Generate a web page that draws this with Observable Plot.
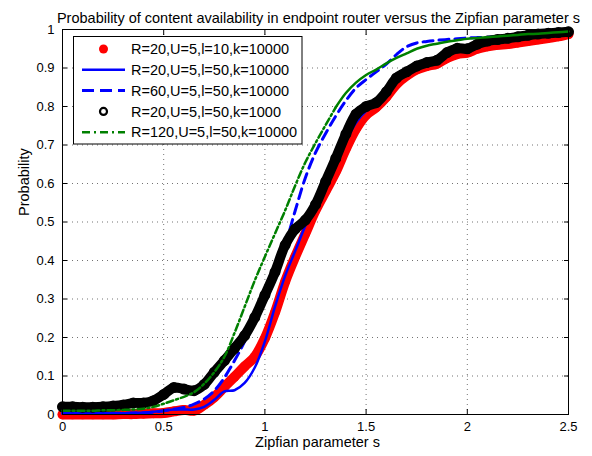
<!DOCTYPE html>
<html><head><meta charset="utf-8">
<script src="https://cdn.jsdelivr.net/npm/d3@7"></script>
<script src="https://cdn.jsdelivr.net/npm/@observablehq/plot@0.6"></script>
<style>body{margin:0;background:#fff} svg{display:block}</style>
</head><body><div id="chart"></div>
<script>
const titleText = "Probability of content availability in endpoint router versus the Zipfian parameter s";
const xLabel = "Zipfian parameter s";
const yLabel = "Probability";
const xTicks = [0, 0.5, 1, 1.5, 2, 2.5];
const yTicks = [0, 0.1, 0.2, 0.3, 0.4, 0.5, 0.6, 0.7, 0.8, 0.9, 1];
const legendLabels = ["R=20,U=5,l=10,k=10000", "R=20,U=5,l=50,k=10000", "R=60,U=5,l=50,k=10000", "R=20,U=5,l=50,k=1000", "R=120,U=5,l=50,k=10000"];

const sValues = [0,0.05,0.1,0.15,0.2,0.25,0.3,0.35,0.4,0.45,0.5,0.55,0.6,0.65,0.7,0.75,0.8,0.85,0.9,0.95,1,1.05,1.1,1.15,1.2,1.25,1.3,1.35,1.4,1.45,1.5,1.55,1.6,1.65,1.7,1.75,1.8,1.85,1.9,1.95,2,2.05,2.1,2.15,2.2,2.25,2.3,2.35,2.4,2.45,2.5];

const pRed = [0,0,0,0,0,0,0.001,0.001,0.002,0.003,0.004,0.008,0.012,0.010,0.025,0.045,0.072,0.098,0.125,0.150,0.198,0.265,0.345,0.410,0.470,0.530,0.580,0.630,0.690,0.742,0.778,0.798,0.825,0.858,0.880,0.896,0.905,0.911,0.926,0.936,0.940,0.950,0.956,0.960,0.962,0.966,0.970,0.974,0.978,0.982,0.988];
const pBlue = [0.003,0.003,0.003,0.003,0.003,0.003,0.003,0.004,0.005,0.007,0.010,0.013,0.013,0.013,0.020,0.038,0.060,0.063,0.082,0.122,0.190,0.280,0.360,0.425,0.490,0.545,0.595,0.650,0.710,0.758,0.788,0.805,0.832,0.866,0.888,0.903,0.912,0.918,0.934,0.946,0.950,0.960,0.965,0.970,0.973,0.977,0.981,0.984,0.987,0.989,0.991];
const pDashed = [0.003,0.003,0.003,0.003,0.003,0.003,0.003,0.004,0.004,0.006,0.010,0.014,0.018,0.027,0.040,0.062,0.096,0.140,0.190,0.250,0.310,0.370,0.440,0.530,0.615,0.680,0.730,0.775,0.815,0.848,0.870,0.890,0.910,0.935,0.955,0.965,0.969,0.972,0.974,0.976,0.978,0.979,0.980,0.982,0.984,0.986,0.988,0.989,0.990,0.992,0.993];
const pBlack = [0.020,0.020,0.019,0.019,0.020,0.022,0.025,0.030,0.030,0.036,0.052,0.070,0.066,0.062,0.078,0.110,0.140,0.172,0.205,0.252,0.310,0.370,0.440,0.482,0.505,0.545,0.605,0.665,0.728,0.780,0.800,0.810,0.838,0.874,0.890,0.905,0.914,0.920,0.940,0.951,0.950,0.962,0.970,0.974,0.977,0.981,0.985,0.988,0.990,0.992,0.994];
const pGreen = [0.010,0.010,0.010,0.010,0.011,0.011,0.012,0.013,0.015,0.020,0.028,0.037,0.046,0.058,0.080,0.110,0.150,0.212,0.280,0.348,0.410,0.470,0.530,0.595,0.655,0.705,0.752,0.798,0.835,0.862,0.882,0.896,0.912,0.926,0.938,0.950,0.958,0.963,0.968,0.972,0.976,0.978,0.980,0.982,0.984,0.986,0.988,0.989,0.991,0.993,0.995];

const rows = (p) => sValues.map((s, i) => ({s, p: p[i]}));
const red = rows(pRed), blue = rows(pBlue), dashed = rows(pDashed), black = rows(pBlack), green = rows(pGreen);
const greenA = green.filter(d => d.s <= 1.35), greenB = green.filter(d => d.s >= 1.35);

const font = "'Liberation Sans', Arial, Helvetica, sans-serif";
const empty = () => "";

const svg = Plot.plot({
  width: 592, height: 456,
  marginLeft: 62, marginRight: 24, marginTop: 29, marginBottom: 42,
  style: {fontFamily: font, fontSize: "13px", color: "#000", background: "#fff", overflow: "visible"},
  x: {domain: [0, 2.5]},
  y: {domain: [0, 1]},
  marks: [
    Plot.gridX(xTicks, {stroke: "#000", strokeOpacity: 0.55, strokeDasharray: "1,4"}),
    Plot.gridY(yTicks, {stroke: "#000", strokeOpacity: 0.55, strokeDasharray: "1,4"}),
    Plot.line(red, {x: "s", y: "p", stroke: "#ff0000", strokeWidth: 10, curve: "catmull-rom"}),
    Plot.dot(red, {x: "s", y: "p", r: 4.8, fill: "#ff0000"}),
    Plot.line(blue, {x: "s", y: "p", stroke: "#0000ff", strokeWidth: 2.5, curve: "catmull-rom"}),
    Plot.line(dashed, {x: "s", y: "p", stroke: "#0000ff", strokeWidth: 3, strokeDasharray: "10,6", curve: "catmull-rom"}),
    Plot.line(black, {x: "s", y: "p", stroke: "#000", strokeWidth: 10, curve: "catmull-rom"}),
    Plot.dot(black, {x: "s", y: "p", r: 4.3, stroke: "#000", strokeWidth: 2.4, fill: "none"}),
    Plot.line(greenA, {x: "s", y: "p", stroke: "#008000", strokeWidth: 2.5, strokeDasharray: "7,3,2,3", curve: "catmull-rom"}),
    Plot.line(greenB, {x: "s", y: "p", stroke: "#008000", strokeWidth: 2.5, curve: "catmull-rom"}),
    Plot.frame({stroke: "#000", strokeWidth: 1}),
    Plot.axisX(xTicks, {anchor: "bottom", tickSize: 0, tickPadding: 7, tickFormat: d => String(d), label: null, fontSize: 13}),
    Plot.axisY(yTicks, {anchor: "left", tickSize: 0, tickPadding: 8, tickFormat: d => String(d), label: null, fontSize: 13}),
    Plot.axisX(xTicks, {anchor: "bottom", tickSize: 5, dy: -5, tickFormat: empty, label: null}),
    Plot.axisX(xTicks, {anchor: "top", tickSize: 5, dy: 5, tickFormat: empty, label: null}),
    Plot.axisY(yTicks, {anchor: "left", tickSize: 5, dx: 5, tickFormat: empty, label: null}),
    Plot.axisY(yTicks, {anchor: "right", tickSize: 5, dx: -5, tickFormat: empty, label: null}),
    Plot.text([titleText], {frameAnchor: "top", dx: 3, dy: -17, fontSize: 14.5}),
    Plot.text([xLabel], {frameAnchor: "bottom", dx: 2, dy: 32, fontSize: 14.5}),
    Plot.text([yLabel], {frameAnchor: "left", rotate: -90, dx: -38, dy: -6, fontSize: 14.5})
  ]
});
document.getElementById("chart").appendChild(svg);

// Legend (MATLAB-style box, upper left)
const lg = d3.select(svg).append("g").attr("font-family", font).attr("font-size", "14.5px").attr("text-anchor", "start");
lg.append("rect").attr("x", 73.5).attr("y", 36.5).attr("width", 228.5).attr("height", 107.5)
  .attr("fill", "#fff").attr("stroke", "#000").attr("stroke-width", 1);
const rowY = i => 49 + i * 20.8;
const x0 = 82, x1 = 125, xm = 103.5;
lg.append("circle").attr("cx", xm).attr("cy", rowY(0)).attr("r", 4.5).attr("fill", "#ff0000");
lg.append("line").attr("x1", x0).attr("x2", x1).attr("y1", rowY(1)).attr("y2", rowY(1)).attr("stroke", "#0000ff").attr("stroke-width", 2.5);
lg.append("line").attr("x1", x0).attr("x2", x1).attr("y1", rowY(2)).attr("y2", rowY(2)).attr("stroke", "#0000ff").attr("stroke-width", 3).attr("stroke-dasharray", "12,6");
lg.append("circle").attr("cx", xm).attr("cy", rowY(3)).attr("r", 3.5).attr("fill", "none").attr("stroke", "#000").attr("stroke-width", 2.2);
lg.append("line").attr("x1", x0).attr("x2", x1).attr("y1", rowY(4)).attr("y2", rowY(4)).attr("stroke", "#008000").attr("stroke-width", 2.5).attr("stroke-dasharray", "8,4,2,4");
legendLabels.forEach((t, i) => {
  lg.append("text").attr("x", 131).attr("y", rowY(i) + 5.2).attr("text-anchor", "start").text(t);
});
</script>
</body></html>
